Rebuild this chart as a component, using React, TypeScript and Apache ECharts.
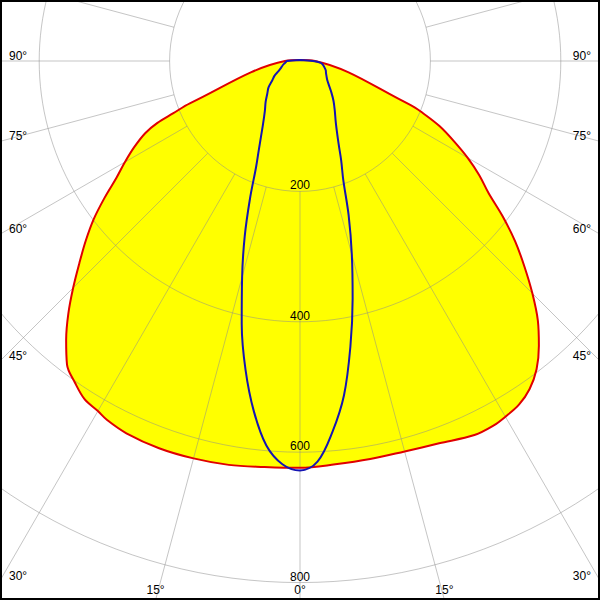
import React, { useEffect, useRef } from "react";
import * as echarts from "echarts";

// Angle labels (degrees from nadir), shown on both sides
const ANGLE_LABELS = [0, 15, 30, 45, 60, 75, 90];
// Radius grid (cd)
const RADIUS_MIN = 200;
const RADIUS_MAX = 1000;
const RADIUS_STEP = 200;

// Wide plane (red outline, yellow fill) – right side (gamma, cd)
const RED_RIGHT_GAMMA = [0, 5, 10, 15, 20, 25, 28, 30, 32.5, 35, 37.5, 40, 42.5, 45, 47.5, 50, 52.5, 55, 57.5, 60, 62.5, 65, 67, 68.3, 90, 180];
const RED_RIGHT = [623, 621, 620, 620, 624, 633, 633, 630, 625, 614, 596, 570, 540, 504, 467, 431, 392, 353, 326, 297, 266, 236, 205, 182, 23, 1.5];
// Wide plane – left side
const RED_LEFT_GAMMA = [0, 5, 10, 15, 20, 25, 28.3, 30, 32.5, 35, 37.5, 40, 42.5, 45, 47.5, 50, 52.5, 55, 57.5, 60, 62.5, 65, 66.5, 67.6, 69, 90, 180];
const RED_LEFT = [624, 625, 629, 631, 632, 630, 625, 620, 615, 602, 587, 558, 526, 492, 459, 429, 399, 366, 334, 310, 287, 262, 239, 210, 181, 23, 1.5];

// Narrow plane (blue outline)
const BLUE_GAMMA = [0, 2.5, 5, 7.5, 10, 12.5, 15, 17.5, 20, 22.5, 25, 30, 35, 40, 45, 50, 55, 60, 65, 70, 75, 80, 85, 90, 180];
const BLUE_RIGHT = [629, 615, 571, 517, 445, 373, 307, 248, 194, 165, 140, 110, 93, 80, 68, 58, 51, 47, 44, 42, 39, 36, 32, 20, 1.5];
const BLUE_LEFT = [628, 619, 592, 542, 481, 413, 343, 282, 224, 176, 149, 114, 94, 82, 71, 63, 52, 45, 36, 31, 28, 25, 22, 20, 1.5];

const FONT = "Liberation Sans";
const GRID_COLOR = "rgba(140,140,140,0.5)";
const SMOOTH = 0.35;

function buildLoop(leftG: number[], leftV: number[], rightG: number[], rightV: number[]) {
  const left = leftG.map((g, i) => [leftV[i], -g]).reverse();
  const right = rightG.map((g, i) => [rightV[i], g]);
  return [...left, ...right.slice(1)];
}

export default function App() {
  const ref = useRef<HTMLDivElement>(null);
  useEffect(() => {
    if (!ref.current) return;
    const chart = echarts.init(ref.current, null, { renderer: "svg" });
    const W = 600, H = 600;
    const cx = 300, cy = 61;
    const pxPerUnit = 130.4 / 200;
    const inner = RADIUS_MIN * pxPerUnit;
    const outer = RADIUS_MAX * pxPerUnit;

    const redData = buildLoop(RED_LEFT_GAMMA, RED_LEFT, RED_RIGHT_GAMMA, RED_RIGHT);
    const blueData = buildLoop(BLUE_GAMMA, BLUE_LEFT, BLUE_GAMMA, BLUE_RIGHT);

    const labels: any[] = [];
    ANGLE_LABELS.forEach((a) => {
      const sides = a === 0 ? [1] : [-1, 1];
      sides.forEach((side) => {
        const rad = (a * Math.PI) / 180;
        const dx = Math.sin(rad) * side;
        const dy = Math.cos(rad);
        const tx = Math.abs(dx) > 1e-9 ? ((side < 0 ? 0 : W) - cx) / dx : Infinity;
        const ty = dy > 1e-9 ? (H - cy) / dy : Infinity;
        if (tx < ty) {
          const y = cy + dy * tx;
          labels.push({
            type: "text",
            x: side < 0 ? 9 : 591,
            y: y + 1,
            z: 50,
            silent: true,
            style: { text: a + "°", fill: "#000", fontSize: 12, fontFamily: FONT, align: side < 0 ? "left" : "right", verticalAlign: "bottom" },
          });
        } else {
          const x = cx + dx * ty;
          labels.push({
            type: "text",
            x,
            y: 596,
            z: 50,
            silent: true,
            style: { text: a + "°", fill: "#000", fontSize: 12, fontFamily: FONT, align: "center", verticalAlign: "bottom" },
          });
        }
      });
    });

    const option: any = {
      animation: false,
      backgroundColor: "#ffffff",
      textStyle: { fontFamily: FONT },
      polar: [
        { center: [cx, cy], radius: [inner, outer] },
        { center: [cx, cy], radius: [0, outer] },
      ],
      angleAxis: [
        {
          polarIndex: 0,
          type: "value",
          min: 0,
          max: 360,
          interval: 15,
          startAngle: 270,
          z: 2,
          axisLine: { show: false },
          axisTick: { show: false },
          axisLabel: { show: false },
          splitLine: { show: true, lineStyle: { color: GRID_COLOR, width: 1 } },
        },
        {
          polarIndex: 1,
          type: "value",
          min: -180,
          max: 180,
          startAngle: 90,
          clockwise: false,
          show: false,
          axisLine: { show: false },
          axisTick: { show: false },
          axisLabel: { show: false },
          splitLine: { show: false },
        },
      ],
      radiusAxis: [
        {
          polarIndex: 0,
          type: "value",
          min: RADIUS_MIN,
          max: RADIUS_MAX,
          interval: RADIUS_STEP,
          z: 2,
          axisLine: { show: false },
          axisTick: { show: false },
          axisLabel: {
            show: true,
            showMinLabel: true,
            showMaxLabel: false,
            margin: 0,
            align: "center",
            verticalAlign: "bottom",
            fontSize: 12,
            fontFamily: FONT,
            color: "#000",
          },
          splitLine: { show: true, lineStyle: { color: GRID_COLOR, width: 1 } },
        },
        {
          polarIndex: 1,
          type: "value",
          min: 0,
          max: RADIUS_MAX,
          show: false,
          axisLine: { show: false },
          axisTick: { show: false },
          axisLabel: { show: false },
          splitLine: { show: false },
        },
      ],
      series: [
        {
          type: "line",
          coordinateSystem: "polar",
          polarIndex: 1,
          data: redData,
          symbol: "none",
          smooth: SMOOTH,
          silent: true,
          lineStyle: { width: 0, opacity: 0 },
          areaStyle: { color: "#ffff00", opacity: 1 },
          z: 1,
        },
        {
          type: "line",
          coordinateSystem: "polar",
          polarIndex: 1,
          data: redData,
          symbol: "none",
          smooth: SMOOTH,
          silent: true,
          lineStyle: { color: "#e00000", width: 2 },
          z: 3,
        },
        {
          type: "line",
          coordinateSystem: "polar",
          polarIndex: 1,
          data: blueData,
          symbol: "none",
          smooth: SMOOTH,
          silent: true,
          lineStyle: { color: "#1414b4", width: 2 },
          z: 3,
        },
      ],
      graphic: [
        ...labels,
        {
          type: "rect",
          z: 100,
          silent: true,
          shape: { x: 1, y: 1, width: W - 2, height: H - 2 },
          style: { fill: "none", stroke: "#000", lineWidth: 2 },
        },
      ],
    };
    chart.setOption(option);
    return () => chart.dispose();
  }, []);
  return <div ref={ref} style={{ position: "absolute", left: 0, top: 0, width: 600, height: 600 }} />;
}
